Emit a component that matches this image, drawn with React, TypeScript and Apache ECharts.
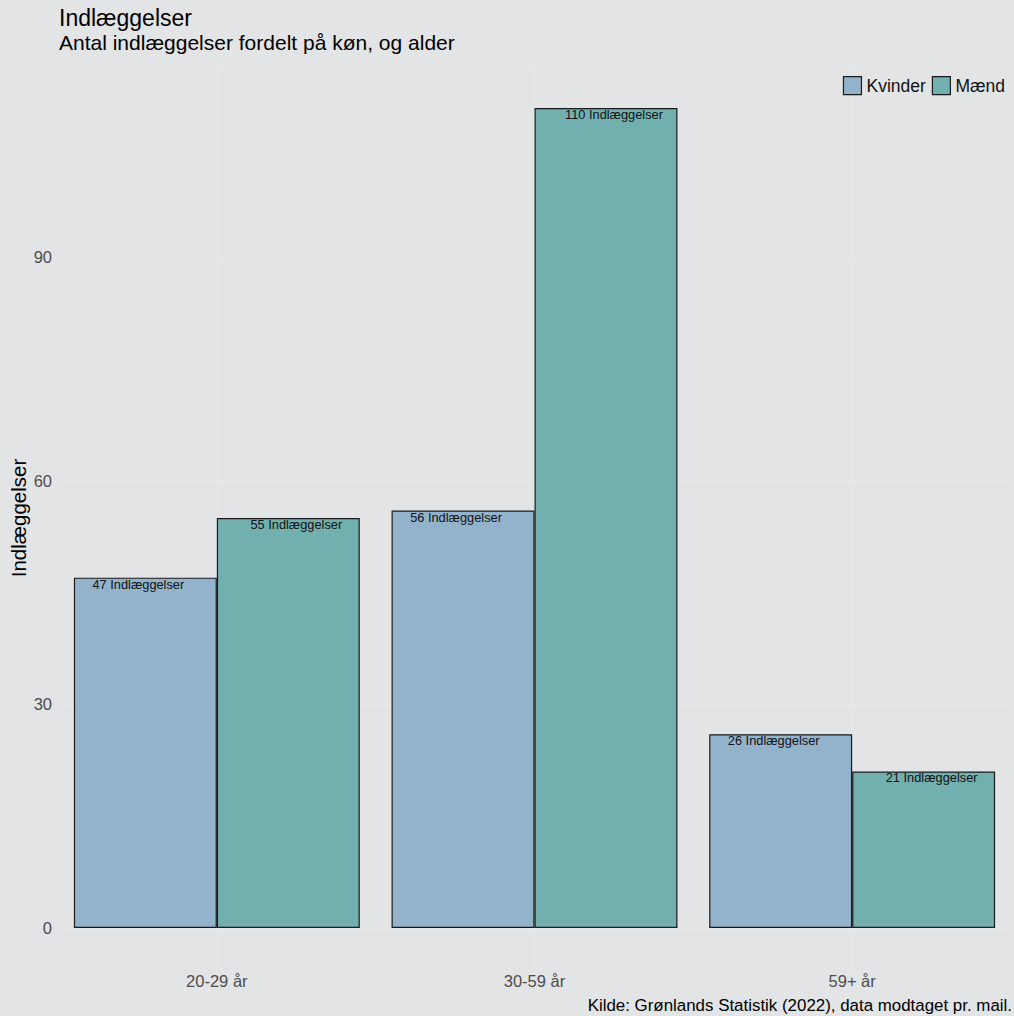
import React, { useEffect, useRef } from "react";
import * as echarts from "echarts";

const categories = ["20-29 år", "30-59 år", "59+ år"];
const kvinder = [47, 56, 26];
const maend = [55, 110, 21];
const yTicks = [0, 30, 60, 90];

const BG = "#e3e4e6";
const GRID = "#e8e9e9";
const FONT = "'Liberation Sans', Arial, sans-serif";

export default function App() {
  const ref = useRef<HTMLDivElement>(null);
  useEffect(() => {
    document.body.style.margin = "0";
    const chart = echarts.init(ref.current!, null, { renderer: "svg" });
    const labelFor = (dx: number) => ({
      show: true,
      position: "insideTop" as const,
      distance: 0,
      offset: [dx, 0],
      color: "#111",
      fontSize: 12.8,
      fontFamily: FONT,
      formatter: (p: any) => `${p.value} Indlæggelser`,
    });
    chart.setOption({
      animation: false,
      backgroundColor: BG,
      textStyle: { fontFamily: FONT },
      title: {
        text: "Indlæggelser",
        subtext: "Antal indlæggelser fordelt på køn, og alder",
        left: 54,
        top: 1,
        itemGap: 3,
        textStyle: { fontSize: 23, fontWeight: "normal", color: "#000", fontFamily: FONT },
        subtextStyle: { fontSize: 21, color: "#000", fontFamily: FONT },
      },
      legend: {
        right: 4,
        top: 71,
        itemWidth: 18,
        itemHeight: 18,
        itemGap: 6,
        icon: "rect",
        textStyle: { fontSize: 17.5, color: "#111", fontFamily: FONT, padding: [0, 0, 0, 0] },
        data: [
          { name: "Kvinder", itemStyle: { borderColor: "#1a1a1a", borderWidth: 1.2 } },
          { name: "Mænd", itemStyle: { borderColor: "#1a1a1a", borderWidth: 1.2 } },
        ],
      },
      grid: { left: 58, right: 3, top: 67, bottom: 88, containLabel: false },
      xAxis: {
        type: "category",
        data: categories,
        axisLine: { show: false },
        axisTick: { show: false },
        axisLabel: { margin: 44, fontSize: 16.5, color: "#4d4d4d", fontFamily: FONT },
        splitLine: { show: false },
      },
      yAxis: {
        type: "value",
        min: 0,
        max: 115.5,
        interval: 30,
        axisLine: { show: false },
        axisTick: { show: false },
        axisLabel: {
          showMaxLabel: false,
          margin: 6,
          fontSize: 16.5,
          color: "#4d4d4d",
          fontFamily: FONT,
          formatter: (v: number) => (yTicks.includes(v) ? String(v) : ""),
        },
        splitLine: { lineStyle: { color: GRID, width: 1 } },
      },
      graphic: [
        ...categories.map((_, i) => ({
          type: "line",
          silent: true,
          z: -1,
          shape: { x1: 58 + 317.67 * (i + 0.5), y1: 67, x2: 58 + 317.67 * (i + 0.5), y2: 969 },
          style: { stroke: GRID, lineWidth: 1 },
        })),
        {
          type: "text",
          x: 18,
          y: 518,
          rotation: Math.PI / 2,
          style: {
            text: "Indlæggelser",
            fontSize: 20.5,
            fill: "#000",
            fontFamily: FONT,
            align: "center",
            verticalAlign: "middle",
          },
        },
        {
          type: "text",
          right: 2,
          bottom: 2,
          style: {
            text: "Kilde: Grønlands Statistik (2022), data modtaget pr. mail.",
            fontSize: 16.9,
            fill: "#000",
            fontFamily: FONT,
          },
        },
      ],
      series: [
        {
          name: "Kvinder",
          type: "bar",
          data: kvinder,
          barGap: "0%",
          barCategoryGap: "10%",
          itemStyle: { color: "#93b3cc", borderColor: "#1a1a1a", borderWidth: 1.2 },
          label: labelFor(-7),
        },
        {
          name: "Mænd",
          type: "bar",
          data: maend,
          barGap: "0%",
          barCategoryGap: "10%",
          itemStyle: { color: "#71b0af", borderColor: "#1a1a1a", borderWidth: 1.2 },
          label: labelFor(8),
        },
      ],
    });
    return () => chart.dispose();
  }, []);
  return <div ref={ref} style={{ width: 1014, height: 1016 }} />;
}
